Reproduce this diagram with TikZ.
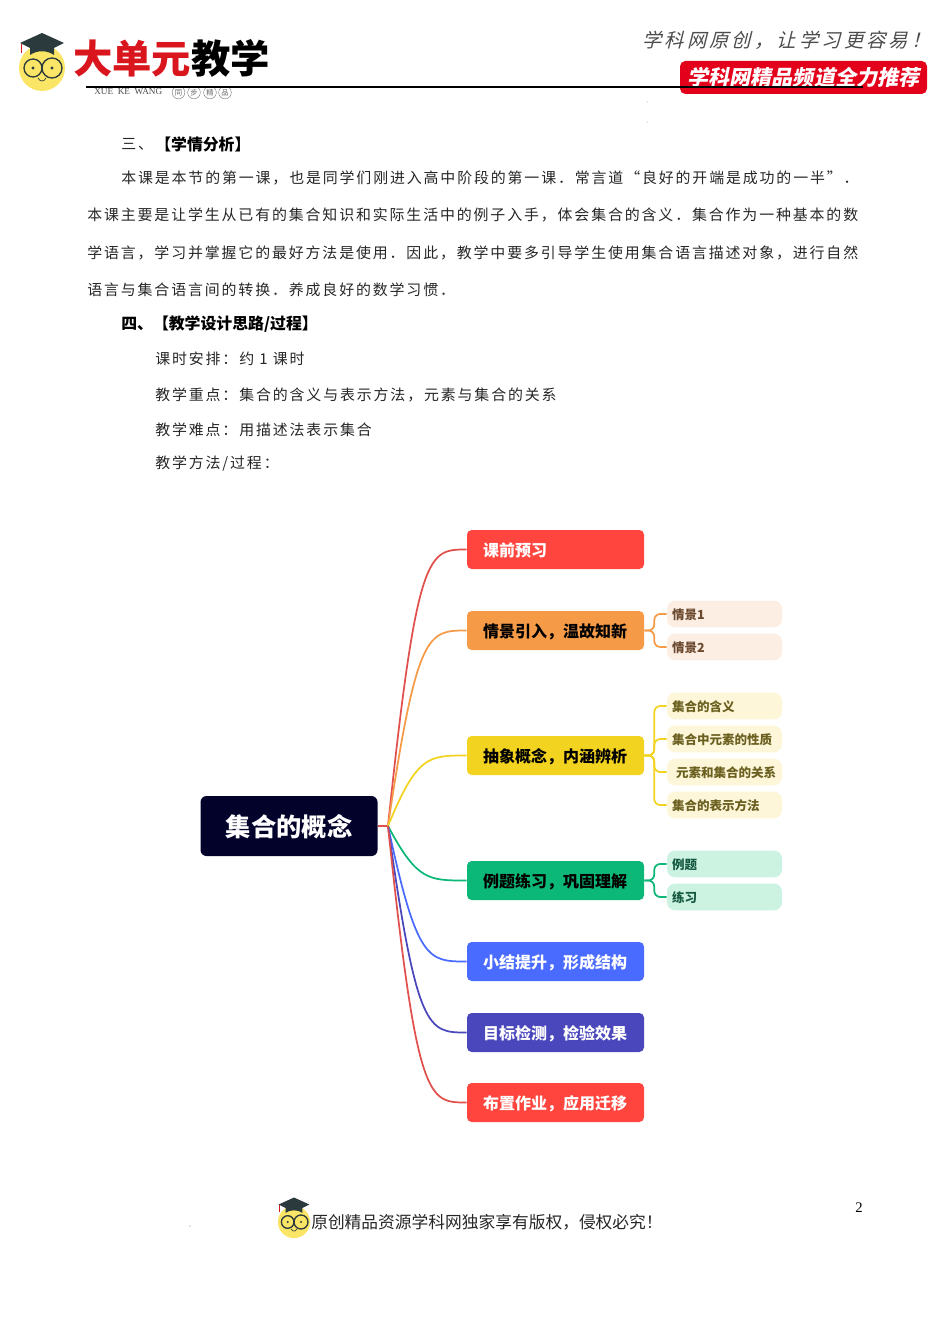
\documentclass[tikz,border=0pt]{standalone}
\usepackage{fontspec}
\setmainfont{Noto Sans CJK SC}
\newfontfamily\bodyfont[LetterSpace=12.5]{Noto Sans CJK SC}
\newfontfamily\slogan[LetterSpace=16,FakeSlant=0.25]{Noto Sans CJK SC}
\newfontfamily\banner[FakeSlant=0.2]{Noto Sans CJK SC}
\newfontfamily\latinserif{Liberation Serif}
\usetikzlibrary{calc}
\definecolor{rootc}{HTML}{02022B}
\definecolor{redc}{HTML}{FF453D}
\definecolor{redl}{HTML}{E0504D}
\definecolor{orangec}{HTML}{F59B48}
\definecolor{orangel}{HTML}{FDEEE3}
\definecolor{oranget}{HTML}{6B4A30}
\definecolor{yellowc}{HTML}{F2D31F}
\definecolor{yellowl}{HTML}{FDF6D8}
\definecolor{yellowt}{HTML}{6B6020}
\definecolor{greenc}{HTML}{0CB877}
\definecolor{greenl}{HTML}{CCF2E2}
\definecolor{greent}{HTML}{14583F}
\definecolor{bluec}{HTML}{4A6BFF}
\definecolor{indigoc}{HTML}{4A47BC}
\definecolor{facec}{HTML}{FBE567}
\definecolor{hatc}{HTML}{2B3A3C}
\definecolor{bannerc}{HTML}{E3001B}
\definecolor{logored}{HTML}{D9161E}
\newcommand{\branch}[2]{\draw [line width=1.3pt,#1] (hub) .. controls (hubc |- #2.west) and (hubd |- #2.west) .. (#2.west);}
\tikzset{
    logoface/.pic={
        \fill [facec] (0,0) circle (23);
        \fill [hatc] (0,-35) -- (-22,-25) -- (-12,-20) -- (-12,-13) .. controls (-5,-18) and (5,-18) .. (12,-13) -- (12,-20) -- (22,-25) -- cycle;
        \draw [logored,line width=0.6pt] (-21,-24) -- (-21,-15);
        \draw [hatc,line width=1pt] (-9,0) circle (9);
        \draw [hatc,line width=1pt] (10,0) circle (10);
        \fill [hatc] (-9,0) circle (1.6);
        \fill [hatc] (10,0) circle (1.6);
        \draw [hatc,line width=0.5pt] (-4,10) .. controls (-2,14) and (2,14) .. (4,10);
    }
}
\begin{document}
\begin{tikzpicture}[
                        x=0.75pt,
                        y=-0.75pt,
                        bodytext/.style={anchor=west,inner sep=0pt,font=\bodyfont\fontsize{11.2pt}{12pt}\selectfont,text=black!85},
                        headtext/.style={anchor=west,inner sep=0pt,font=\fontsize{11.9pt}{12pt}\selectfont\bfseries},
                        mainbox/.style={rectangle,rounded corners=3.5pt,minimum width=132.75pt,minimum height=29.25pt,text width=108.75pt,text height=13pt,text depth=2.4pt,align=left,inner sep=0pt,font=\fontsize{12pt}{14pt}\selectfont\bfseries},
                        subbox/.style={rectangle,rounded corners=6pt,minimum width=86.25pt,minimum height=20pt,text width=78.75pt,text height=10.2pt,text depth=2pt,align=left,inner sep=0pt,font=\fontsize{9.4pt}{11pt}\selectfont\bfseries},
                        seal/.style={circle,draw=black!55,line width=0.3pt,inner sep=0pt,minimum size=9.5pt,text=black!60,font=\fontsize{5.5pt}{6pt}\selectfont}
                    ]
                    \useasboundingbox (0,0) rectangle (950,1344);

                    % Header
                    \pic at (42,68) {logoface};
                    \node [anchor=west,inner sep=0pt,font=\fontsize{29.5pt}{32pt}\selectfont\bfseries] (brand) at (73,58) {\textcolor{logored}{大单元}教学};
                    \node [anchor=west,inner sep=0pt,text=black!70,font=\latinserif\fontsize{6.9pt}{7pt}\selectfont] (pinyin) at (94,92) {XUE\ \ KE\ \ WANG};
                    \foreach \name/\xpos/\word in {seala/178.5/同,sealb/194/步,sealc/210/精,seald/225/品}
                        \node [seal] (\name) at (\xpos,92.5) {\word};
                    \node [anchor=west,inner sep=0pt,text=black!70,font=\slogan\fontsize{14.5pt}{16pt}\selectfont] (motto) at (642,40) {学科网原创，让学习更容易！};
                    \node [rectangle,rounded corners=4pt,fill=bannerc,minimum width=185.25pt,minimum height=24.75pt,inner sep=0pt,text=white,font=\banner\fontsize{15.8pt}{18pt}\selectfont\bfseries] (ribbon) at (803.5,77.5) {学科网精品频道全力推荐};
                    \coordinate (rulea) at (86,87);
                    \coordinate (ruleb) at (863,87);
                    \draw [line width=1pt] (rulea) -- (ruleb);
                    \fill [black!50] (647,102) circle (0.5) (647,122) circle (0.5) (190,1226) circle (0.7);

                    % Text
                    \node [bodytext] (sana) at (121,144) {三、};
                    \node [headtext] (sanb) at (155,144) {【学情分析】};
                    \node [bodytext] (linea) at (121,178) {本课是本节的第一课，也是同学们刚进入高中阶段的第一课．常言道“良好的开端是成功的一半”．};
                    \node [bodytext] (lineb) at (87,215) {本课主要是让学生从已有的集合知识和实际生活中的例子入手，体会集合的含义．集合作为一种基本的数};
                    \node [bodytext] (linec) at (87,253) {学语言，学习并掌握它的最好方法是使用．因此，教学中要多引导学生使用集合语言描述对象，进行自然};
                    \node [bodytext] (lined) at (87,290) {语言与集合语言间的转换．养成良好的数学习惯．};
                    \node [headtext] (sia) at (121,324) {四、【教学设计思路/过程】};
                    \node [bodytext] (hours) at (155,359) {课时安排：约 1 课时};
                    \node [bodytext] (keypt) at (155,395) {教学重点：集合的含义与表示方法，元素与集合的关系};
                    \node [bodytext] (hardpt) at (155,430) {教学难点：用描述法表示集合};
                    \node [bodytext] (method) at (155,463) {教学方法/过程：};

                    % Blocks
                    \node [rectangle,rounded corners=4.5pt,fill=rootc,text=white,minimum width=132.75pt,minimum height=45pt,text height=20pt,text depth=4pt,inner sep=0pt,font=\fontsize{19pt}{22pt}\selectfont\bfseries] (root) at (289,826) {集合的概念};
                    \node [mainbox,fill=redc,text=white] (kqyx) at (555.5,549.5) {课前预习};
                    \node [mainbox,fill=orangec,node distance=60.75pt,below of=kqyx] (qjyr) {情景引入，温故知新};
                    \node [mainbox,fill=yellowc,node distance=93.75pt,below of=qjyr] (cxgn) {抽象概念，内涵辨析};
                    \node [mainbox,fill=greenc,node distance=93.75pt,below of=cxgn] (ltlx) {例题练习，巩固理解};
                    \node [mainbox,fill=bluec,text=white,node distance=60.75pt,below of=ltlx] (xjts) {小结提升，形成结构};
                    \node [mainbox,fill=indigoc,text=white,node distance=53.25pt,below of=xjts] (mbjc) {目标检测，检验效果};
                    \node [mainbox,fill=redc,text=white,node distance=52.5pt,below of=mbjc] (bzzy) {布置作业，应用迁移};

                    \node [subbox,fill=orangel,text=oranget,node distance=126.75pt,right of=qjyr,yshift=12.4pt] (qja) {情景1};
                    \node [subbox,fill=orangel,text=oranget,node distance=24.75pt,below of=qja] (qjb) {情景2};
                    \node [subbox,fill=yellowl,text=yellowt,node distance=126.75pt,right of=cxgn,yshift=37.1pt] (cxa) {集合的含义};
                    \node [subbox,fill=yellowl,text=yellowt,node distance=24.75pt,below of=cxa] (cxb) {集合中元素的性质};
                    \node [subbox,fill=yellowl,text=yellowt,node distance=24.75pt,below of=cxb] (cxc) {\hspace{3pt}元素和集合的关系};
                    \node [subbox,fill=yellowl,text=yellowt,node distance=24.75pt,below of=cxc] (cxd) {集合的表示方法};
                    \node [subbox,fill=greenl,text=greent,node distance=126.75pt,right of=ltlx,yshift=12.4pt] (lta) {例题};
                    \node [subbox,fill=greenl,text=greent,node distance=24.75pt,below of=lta] (ltb) {练习};

                    % Footer
                    \pic [scale=0.7] at (294,1222) {logoface};
                    \node [anchor=west,inner sep=0pt,text=black!85,font=\fontsize{12.55pt}{14pt}\selectfont] (notice) at (311,1222) {原创精品资源学科网独家享有版权，侵权必究！};
                    \node [anchor=center,inner sep=0pt,font=\latinserif\fontsize{11pt}{12pt}\selectfont] (pageno) at (859,1208) {2};

                    % Connections
                    \coordinate (hub) at (388,826);
                    \coordinate (hubc) at (417,826);
                    \coordinate (hubd) at (428,826);
                    \draw [line width=1.3pt,redl] (root.east) -- (hub);
                    \branch{redl}{kqyx}
                    \branch{orangec}{qjyr}
                    \branch{yellowc}{cxgn}
                    \branch{greenc}{ltlx}
                    \branch{bluec}{xjts}
                    \branch{indigoc}{mbjc}
                    \branch{redl}{bzzy}
                    \foreach \sub in {qja,qjb}
                        \draw [line width=1.3pt,orangec,rounded corners=4.5pt] (qjyr.east) -- ++(10,0) |- (\sub.west);
                    \foreach \sub in {cxa,cxb,cxc,cxd}
                        \draw [line width=1.3pt,yellowc,rounded corners=4.5pt] (cxgn.east) -- ++(10,0) |- (\sub.west);
                    \foreach \sub in {lta,ltb}
                        \draw [line width=1.3pt,greenc,rounded corners=4.5pt] (ltlx.east) -- ++(10,0) |- (\sub.west);
                \end{tikzpicture}
\end{document}
